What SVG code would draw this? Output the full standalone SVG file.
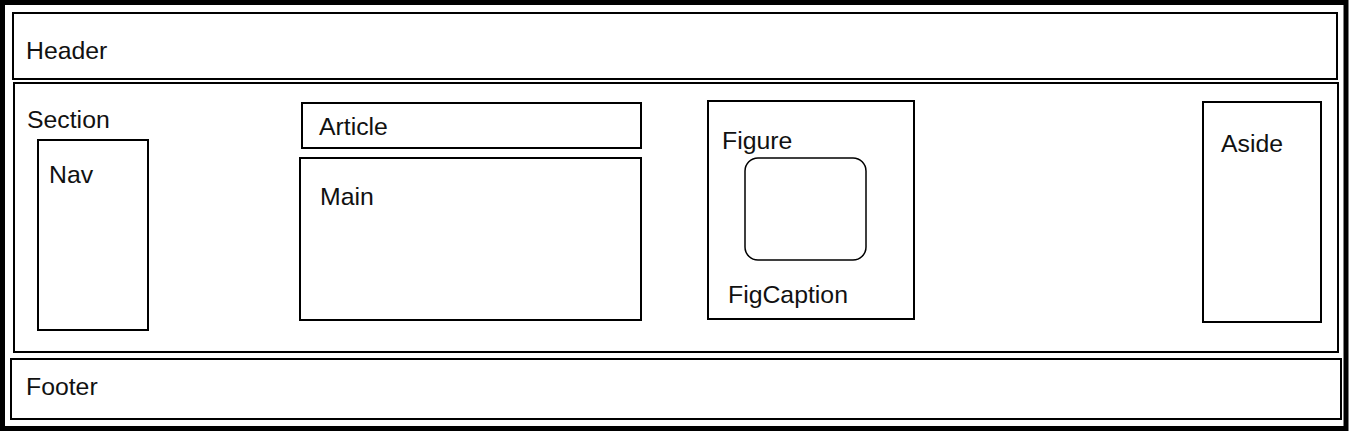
<svg xmlns="http://www.w3.org/2000/svg" width="1349" height="431" viewBox="0 0 1349 431">
<style>
.box{fill:#fff;stroke:#000;stroke-width:2}
.lbl{font-family:"Liberation Sans",Arial,sans-serif;font-size:24.8px;fill:#111}
</style>
<rect x="0" y="0" width="1349" height="431" fill="#fff"/>
<g id="page"><rect x="2.5" y="2.5" width="1343.5" height="426" fill="#fff" stroke="#000" stroke-width="5"/></g>
<g id="header"><rect class="box" x="13" y="13" width="1324" height="66"/><text class="lbl" x="26" y="59">Header</text></g>
<g id="section"><rect class="box" x="14" y="83" width="1324" height="269"/><text class="lbl" x="27" y="128">Section</text></g>
<g id="nav"><rect class="box" x="38" y="140" width="110" height="190"/><text class="lbl" x="49" y="183">Nav</text></g>
<g id="article"><rect class="box" x="302" y="103" width="339" height="45"/><text class="lbl" x="319" y="135">Article</text></g>
<g id="main"><rect class="box" x="300" y="158" width="341" height="162"/><text class="lbl" x="320" y="205">Main</text></g>
<g id="figure"><rect class="box" x="708" y="101" width="206" height="218"/><text class="lbl" x="722" y="149">Figure</text>
<rect x="745" y="158" width="121" height="102" rx="13" fill="#fff" stroke="#000" stroke-width="1.5"/>
<text class="lbl" x="728" y="303">FigCaption</text></g>
<g id="aside"><rect class="box" x="1203" y="102" width="118" height="220"/><text class="lbl" x="1221" y="152">Aside</text></g>
<g id="footer"><rect class="box" x="11" y="359" width="1330" height="60"/><text class="lbl" x="26" y="395">Footer</text></g>
<g id="connectors"></g>
</svg>
